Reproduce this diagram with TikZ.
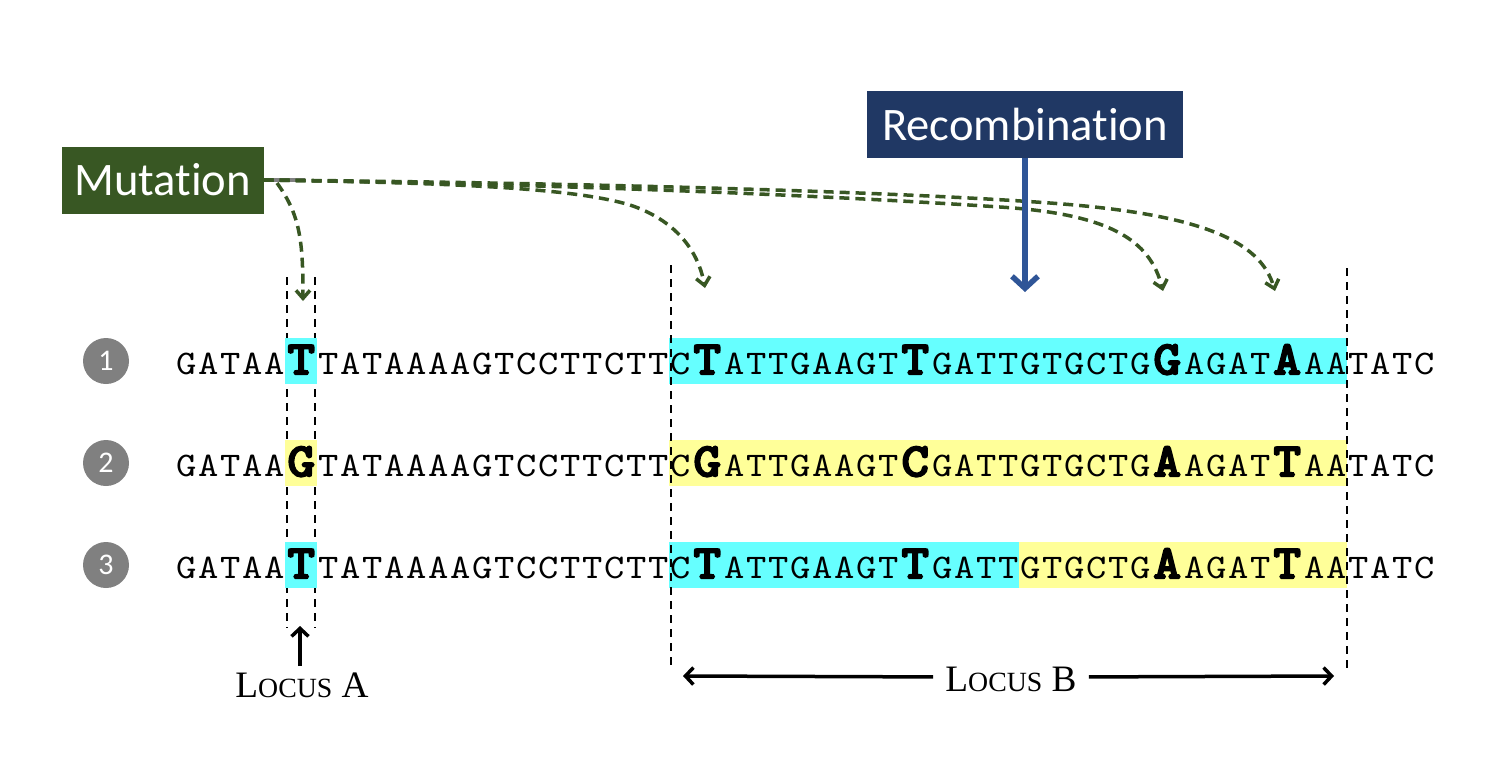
\documentclass[tikz,border=0pt]{standalone}
\usepackage{fontspec}
\usetikzlibrary{arrows.meta}
\newfontfamily\carl{Carlito}[Ligatures=NoCommon]
\newfontfamily\seqfont{lmmono10-regular}[Extension=.otf, FakeStretch=1.12]
\newfontfamily\seqbold{lmmono10-regular}[Extension=.otf, FakeStretch=1.1, FakeBold=5]
\newfontfamily\lserif{Liberation Serif}
\definecolor{mutgreen}{HTML}{385723}
\definecolor{recnavy}{HTML}{203864}
\definecolor{recblue}{HTML}{2F5597}
\definecolor{hlcyan}{HTML}{66FFFF}
\definecolor{hlyel}{HTML}{FFFF99}
\definecolor{numgrey}{HTML}{808080}
\newsavebox\hlbox
\def\dna#1{\dnaloop#1\relax}
\def\dnaloop#1{\ifx#1\relax\else\makebox[22pt]{#1}\expandafter\dnaloop\fi}
\def\bigb#1{\makebox[32pt]{\seqbold\fontsize{47}{47}\selectfont #1}}
\def\hilite#1#2{\sbox\hlbox{#2}\rlap{\textcolor{#1}{\rule[-9.5pt]{\wd\hlbox}{45.5pt}}}\usebox\hlbox}
\def\locus#1{{\fontsize{37.3}{40}\selectfont L}{\fontsize{27.8}{30}\selectfont OCUS}{\fontsize{37.3}{40}\selectfont\ #1}}
\tikzset{
  numc/.style={circle, fill=numgrey, minimum size=46pt, inner sep=0pt, text=white, font=\carl\fontsize{30}{30}\selectfont},
  seqrow/.style={anchor=base west, inner sep=0pt, font=\seqfont\fontsize{34.5}{36}\selectfont},
  blackdash/.style={line width=2pt, dash pattern=on 8pt off 6pt},
  mutbox/.style={fill=mutgreen, text=white, minimum width=202pt, minimum height=67pt, inner sep=0pt, font=\carl\fontsize{46.6}{50}\selectfont},
  recbox/.style={fill=recnavy, text=white, minimum width=316pt, minimum height=67pt, inner sep=0pt, font=\carl\fontsize{46.6}{50}\selectfont},
  mutarrow/.style={draw=mutgreen, line width=3.5pt, dash pattern=on 10pt off 6pt, -{Straight Barb[length=8pt,width=14pt]}},
  recarrow/.style={draw=recblue, line width=5.5pt, -{Straight Barb[length=12pt,width=26pt]}},
  locarrow/.style={draw=black, line width=3.5pt, -{Straight Barb[length=8pt,width=17pt]}},
  loclabel/.style={anchor=base, font=\lserif},
}
\begin{document}
\begin{tikzpicture}[x=1pt,y=-1pt]
\useasboundingbox (0,0) rectangle (1512,756);
% locus A guide lines (behind the rows)
\draw[blackdash] (287,277) -- (287,628);
\draw[blackdash] (315,277) -- (315,628);
% row numbers
\node[numc] (c1) at (106,361) {1};
\node[numc] (c2) at (106,463) {2};
\node[numc] (c3) at (106,565) {3};
% sequences
\node[seqrow] (r1) at (175,374) {\dna{GATAA}\hilite{hlcyan}{\bigb{T}}\dna{TATAAAAGTCCTTCTT}\hilite{hlcyan}{\dna{C}\bigb{T}\dna{ATTGAAGT}\bigb{T}\dna{GATTGTGCTG}\bigb{G}\dna{AGAT}\bigb{A}\dna{AA}}\dna{TATC}};
\node[seqrow] (r2) at (175,476) {\dna{GATAA}\hilite{hlyel}{\bigb{G}}\dna{TATAAAAGTCCTTCTT}\hilite{hlyel}{\dna{C}\bigb{G}\dna{ATTGAAGT}\bigb{C}\dna{GATTGTGCTG}\bigb{A}\dna{AGAT}\bigb{T}\dna{AA}}\dna{TATC}};
\node[seqrow] (r3) at (175,578) {\dna{GATAA}\hilite{hlcyan}{\bigb{T}}\dna{TATAAAAGTCCTTCTT}\hilite{hlcyan}{\dna{C}\bigb{T}\dna{ATTGAAGT}\bigb{T}\dna{GATT}}\hilite{hlyel}{\dna{GTGCTG}\bigb{A}\dna{AGAT}\bigb{T}\dna{AA}}\dna{TATC}};
% locus B guide lines
\draw[blackdash] (670.5,265) -- (670.5,668);
\draw[blackdash] (1347,268) -- (1347,668);
% boxes
\node[mutbox] (mut) at (162.5,180) {Mutation};
\node[recbox] (rec) at (1025,124.5) {Recombination};
% grey stub
\draw[line width=4pt, numgrey] (mut.east) -- ++(41,0);
% mutation arrows
\coordinate (m1) at (277,183);
\coordinate (tA) at (303,301);
\coordinate (tB1) at (705,288);
\coordinate (tB2) at (1163,291);
\coordinate (tB3) at (1275,291);
\draw[mutarrow] (m1) .. controls (300,215) and (303,240) .. (tA);
\draw[mutarrow] (mut.east) .. controls (480,183) and (580,190) .. (630,205) .. controls (675,220) and (698,250) .. (tB1);
\draw[mutarrow] (mut.east) .. controls (600,185) and (850,197) .. (1000,207) .. controls (1110,214) and (1150,240) .. (tB2);
\draw[mutarrow] (mut.east) .. controls (600,183) and (900,192) .. (1050,203) .. controls (1200,214) and (1260,240) .. (tB3);
% recombination arrow
\coordinate (tR) at (1025,292);
\draw[recarrow] (rec.south) -- (tR);
% locus labels
\node[loclabel, inner sep=2pt] (locA) at (302,697) {\locus{A}};
\coordinate (aTop) at (300,626);
\draw[locarrow] (locA.north) ++(-2,-4) -- (aTop);
\node[loclabel, inner sep=12pt] (locB) at (1011,691) {\locus{B}};
\coordinate (bL) at (683,676);
\coordinate (bR) at (1334,676);
\draw[locarrow] (locB.west) ++(0,-2) -- (bL);
\draw[locarrow] (locB.east) ++(0,-2) -- (bR);
\end{tikzpicture}
\end{document}
